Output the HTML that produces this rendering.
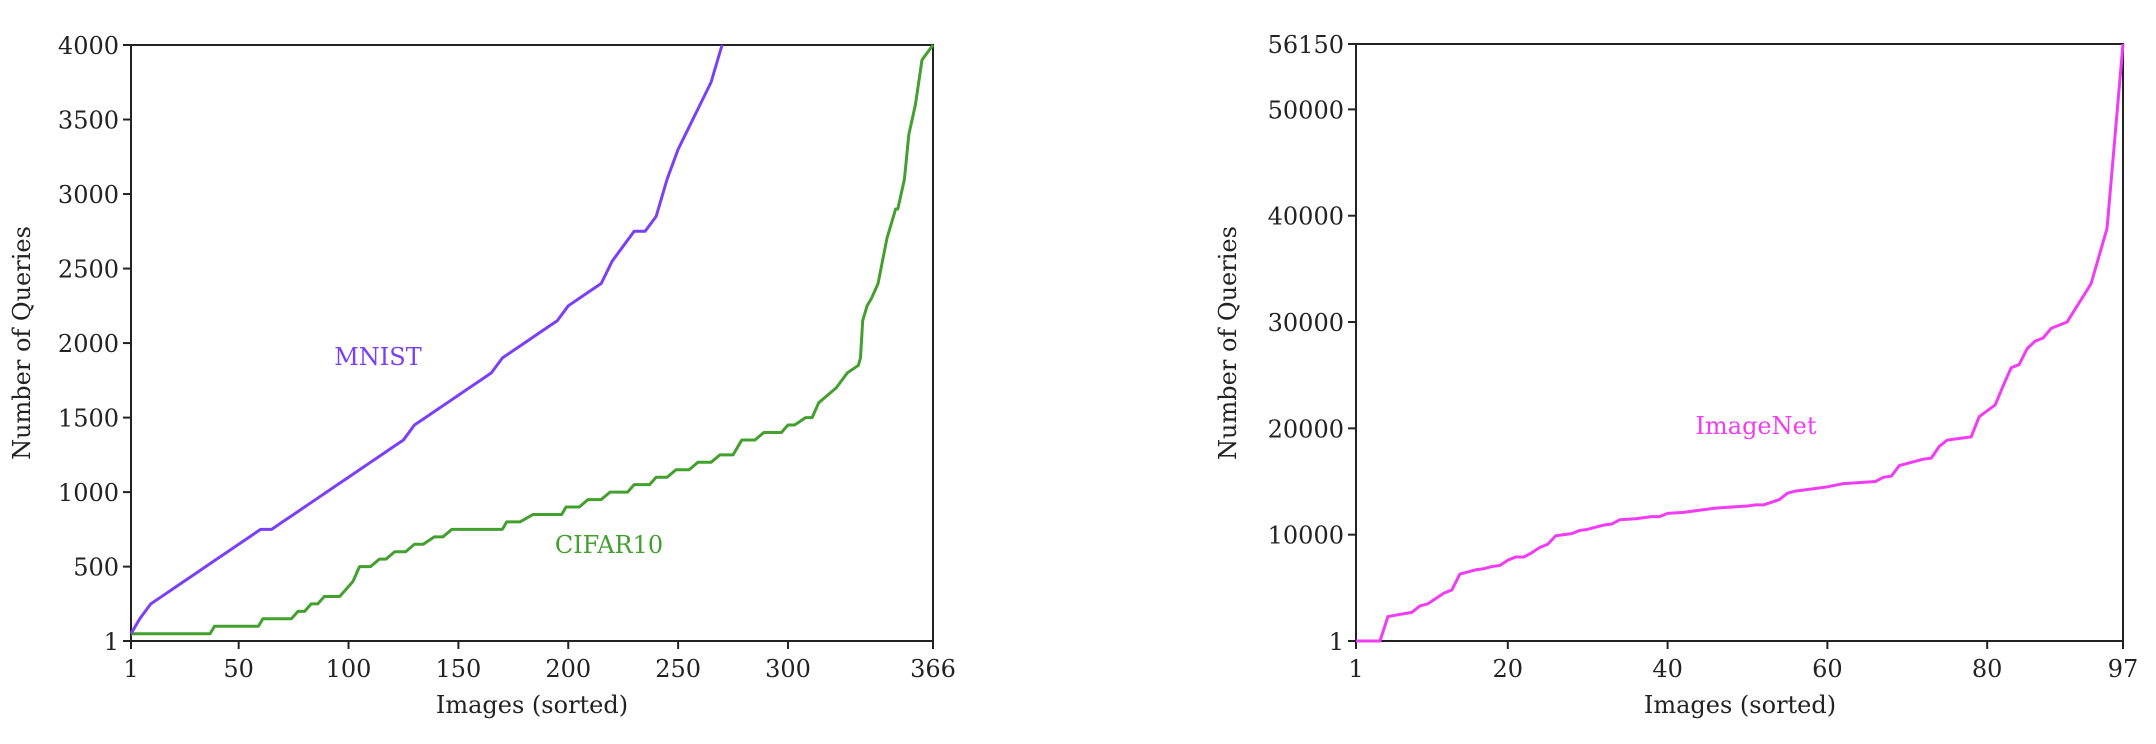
<!DOCTYPE html>
<html><head><meta charset="utf-8"><style>
html,body{margin:0;padding:0;background:#fff;}
svg{display:block;}
text{font-family:"DejaVu Serif","Liberation Serif",serif;}
</style></head><body>
<svg id="fig" width="2156" height="744" xmlns="http://www.w3.org/2000/svg"></svg>
<script>
// Left chart data
const mnistX = [1,5,10,15,20,25,30,35,40,45,50,55,60,65,70,75,80,85,90,95,100,105,110,115,120,125,130,135,140,145,150,155,160,165,170,175,180,185,190,195,200,205,210,215,220,225,230,235,240,243,245,250,255,260,265,270];
const mnistY = [50,150,250,300,350,400,450,500,550,600,650,700,750,750,800,850,900,950,1000,1050,1100,1150,1200,1250,1300,1350,1450,1500,1550,1600,1650,1700,1750,1800,1900,1950,2000,2050,2100,2150,2250,2300,2350,2400,2550,2650,2750,2750,2850,3000,3100,3300,3450,3600,3750,4000];
const cifarX = [1,37,39,59,61,74,77,80,83,86,89,96,99,102,105,110,114,117,121,126,130,134,139,143,147,150,170,172,178,184,197,199,205,209,215,219,227,230,237,240,245,249,255,259,265,269,275,279,285,289,297,300,303,308,311,314,318,322,327,332,333,334,336,338,341,343,345,347,349,350,353,355,358,361,366];
const cifarY = [50,50,100,100,150,150,200,200,250,250,300,300,350,400,500,500,550,550,600,600,650,650,700,700,750,750,750,800,800,850,850,900,900,950,950,1000,1000,1050,1050,1100,1100,1150,1150,1200,1200,1250,1250,1350,1350,1400,1400,1450,1450,1500,1500,1600,1650,1700,1800,1850,1900,2150,2250,2300,2400,2550,2700,2800,2900,2900,3100,3400,3600,3900,4000];
const leftXTicks = [1,50,100,150,200,250,300,366];
const leftYTicks = [1,500,1000,1500,2000,2500,3000,3500,4000];
// Right chart data
const imgX = [1,4,5,8,9,10,12,13,14,16,17,18,19,20,21,22,23,24,25,26,28,29,30,32,33,34,36,38,39,40,42,44,46,48,50,51,52,54,55,56,58,60,62,64,66,67,68,69,70,72,73,74,75,76,78,79,81,82,83,84,85,86,87,88,90,93,95,97];
const imgY = [0,0,2300,2700,3300,3500,4500,4800,6300,6700,6800,7000,7100,7600,7900,7900,8300,8800,9100,9900,10100,10400,10500,10900,11000,11400,11500,11700,11700,12000,12100,12300,12500,12600,12700,12800,12800,13300,13900,14100,14300,14500,14800,14900,15000,15400,15500,16500,16700,17100,17200,18300,18900,19000,19200,21100,22200,24000,25700,26000,27500,28200,28500,29400,30000,33600,38800,56150];
const rightXTicks = [1,20,40,60,80,97];
const rightYTicks = [1,10000,20000,30000,40000,50000,56150];

const NS="http://www.w3.org/2000/svg";
const svg=document.getElementById('fig');
function el(tag,attrs,parent){const e=document.createElementNS(NS,tag);for(const k in attrs)e.setAttribute(k,attrs[k]);(parent||svg).appendChild(e);return e;}

function axes(name,L,R,T,B,xmin,xmax,ymin,ymax,xt,yt){
  const g=el('g',{});
  
  
  const sx=v=>L+(v-xmin)/(xmax-xmin)*(R-L);
  const sy=v=>B-(v-ymin)/(ymax-ymin)*(B-T);
  const frame=el('rect',{x:L,y:T,width:R-L,height:B-T,fill:'none',stroke:'#222','stroke-width':2},g);
  
  
  xt.forEach(v=>{
    const x=sx(v);
    el('line',{x1:x,x2:x,y1:B,y2:B+8,stroke:'#222','stroke-width':2},g);
    const t=el('text',{x:x,y:B+36,'text-anchor':'middle','font-size':24,style:'fill:#222'},g);
    t.textContent=v;
    
    
  });
  yt.forEach(v=>{
    const y=sy(v);
    el('line',{x1:L-8,x2:L,y1:y,y2:y,stroke:'#222','stroke-width':2},g);
    const t=el('text',{x:L-12,y:y+9,'text-anchor':'end','font-size':24,style:'fill:#222'},g);
    t.textContent=v;
    
    
  });
  return {g,sx,sy};
}
function line(a,xs,ys,color,name){
  let d='';
  for(let i=0;i<xs.length;i++){
    const x=a.sx(xs[i]),y=a.sy(ys[i]);
    d+=(i===0?'M':' L')+x+' '+y;
  }
  const p=el('path',{d:d,fill:'none',stroke:color,'stroke-width':3,'stroke-linejoin':'round'},a.g);
  
  
}
function label(x,y,txt,color,name,rot){
  const t=el('text',{x:x,y:y,'text-anchor':'middle','font-size':24,style:'fill:'+color});
  if(rot)t.setAttribute('transform','rotate(-90 '+x+' '+y+')');
  t.textContent=txt;
  
  
  return t;
}

const A=axes('left-chart',131,933,45,641,1,366,1,4000,leftXTicks,leftYTicks);
line(A,cifarX,cifarY,'#43a02f','cifar10-line');
line(A,mnistX,mnistY,'#7b3ff5','mnist-line');
label(378,365,'MNIST','#7b3ff5','mnist-label');
label(609,553,'CIFAR10','#43a02f','cifar10-label');
label(532,713,'Images (sorted)','#222','left-x-axis-title');
label(30,343,'Number of Queries','#222','left-y-axis-title',true);

const B=axes('right-chart',1356,2123,44,641,1,97,0,56150,rightXTicks,rightYTicks);
line(B,imgX,imgY,'#f03cf5','imagenet-line');
label(1756,434,'ImageNet','#f03cf5','imagenet-label');
label(1740,713,'Images (sorted)','#222','right-x-axis-title');
label(1236,343,'Number of Queries','#222','right-y-axis-title',true);
</script>
</body></html>
